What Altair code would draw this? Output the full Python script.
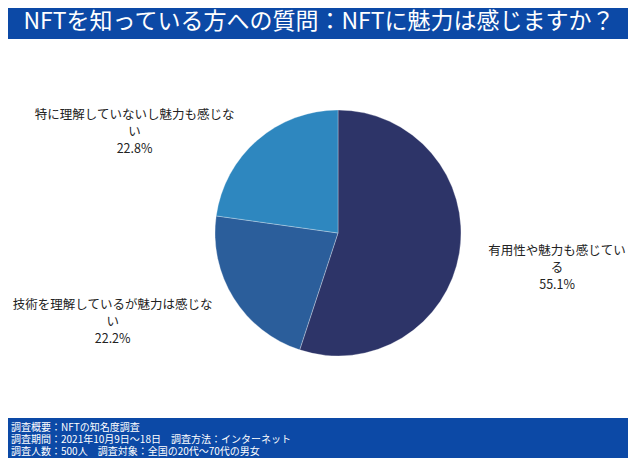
import altair as alt
import pandas as pd

# ---- data ----
categories = [
    "有用性や魅力も感じている",
    "技術を理解しているが魅力は感じない",
    "特に理解していないし魅力も感じない",
]
values = [55.1, 22.2, 22.8]
slice_order = [0, 1, 2]
colors = ["#2d3468", "#2b5e9b", "#2e87bf"]

title_text = "NFTを知っている方への質問：NFTに魅力は感じますか？"
footer_lines = [
    "調査概要：NFTの知名度調査",
    "調査期間：2021年10月9日～18日　調査方法：インターネット",
    "調査人数：500人　調査対象：全国の20代～70代の男女",
]

FONT = "Noto Sans CJK JP"
W, H = 620, 450
CX, CY, R = 330, 225, 123
BAND = "#0c49a6"

labels = [c[:-1] + "\n" + c[-1] + "\n" + f"{v}%" for c, v in zip(categories, values)]
df = pd.DataFrame({"category": categories, "value": values,
                   "order": slice_order, "label": labels})

pie = alt.Chart(df).mark_arc(outerRadius=R, stroke="white", strokeWidth=0.3).encode(
    theta=alt.Theta("value:Q", stack=True),
    order=alt.Order("order:Q"),
    color=alt.Color("category:N", scale=alt.Scale(domain=categories, range=colors), legend=None),
    x=alt.value(CX),
    y=alt.value(CY),
)

# label offsets (dx, dy) from a ray at radius 150 through each slice's mid-angle
offsets = {0: (71, -6), 1: (-98, -7), 2: (-105, -5)}


def label_layer(i):
    dx, dy = offsets[i]
    return alt.Chart(df).transform_calculate(
        t=f"datum.order == {i} ? datum.label : ''"
    ).mark_text(
        radius=150, dx=dx, dy=dy, font=FONT, fontSize=12.5, lineBreak="\n",
        lineHeight=17, color="#222222", align="center", baseline="middle",
    ).encode(
        theta=alt.Theta("value:Q", stack=True),
        order=alt.Order("order:Q"),
        text="t:N",
        x=alt.value(CX),
        y=alt.value(CY),
    )


top_band = alt.Chart(pd.DataFrame({"a": [0]})).mark_rect(color=BAND).encode(
    x=alt.value(0), x2=alt.value(W), y=alt.value(0), y2=alt.value(31)
)
title = alt.Chart(pd.DataFrame({"t": [title_text]})).mark_text(
    font=FONT, fontSize=23, color="white", align="center", baseline="middle"
).encode(x=alt.value(311), y=alt.value(14), text="t:N")

bottom_band = alt.Chart(pd.DataFrame({"a": [0]})).mark_rect(color=BAND).encode(
    x=alt.value(0), x2=alt.value(W), y=alt.value(410), y2=alt.value(H)
)
footer_df = pd.DataFrame({"t": footer_lines, "i": [0, 1, 2]})
footer = alt.Chart(footer_df).mark_text(
    font=FONT, fontSize=10, color="white", align="left", baseline="middle"
).encode(
    x=alt.value(3),
    y=alt.Y("i:Q", scale=alt.Scale(domain=[0, 2], range=[420, 444]), axis=None),
    text="t:N",
)

chart = alt.layer(
    top_band, title, pie, label_layer(0), label_layer(1), label_layer(2), bottom_band, footer
).properties(
    width=W, height=H, padding=0, autosize=alt.AutoSizeParams(type="none"),
    background="white",
).configure_view(stroke=None)

chart.save("out.html", embed_options={"renderer": "svg", "actions": False})
